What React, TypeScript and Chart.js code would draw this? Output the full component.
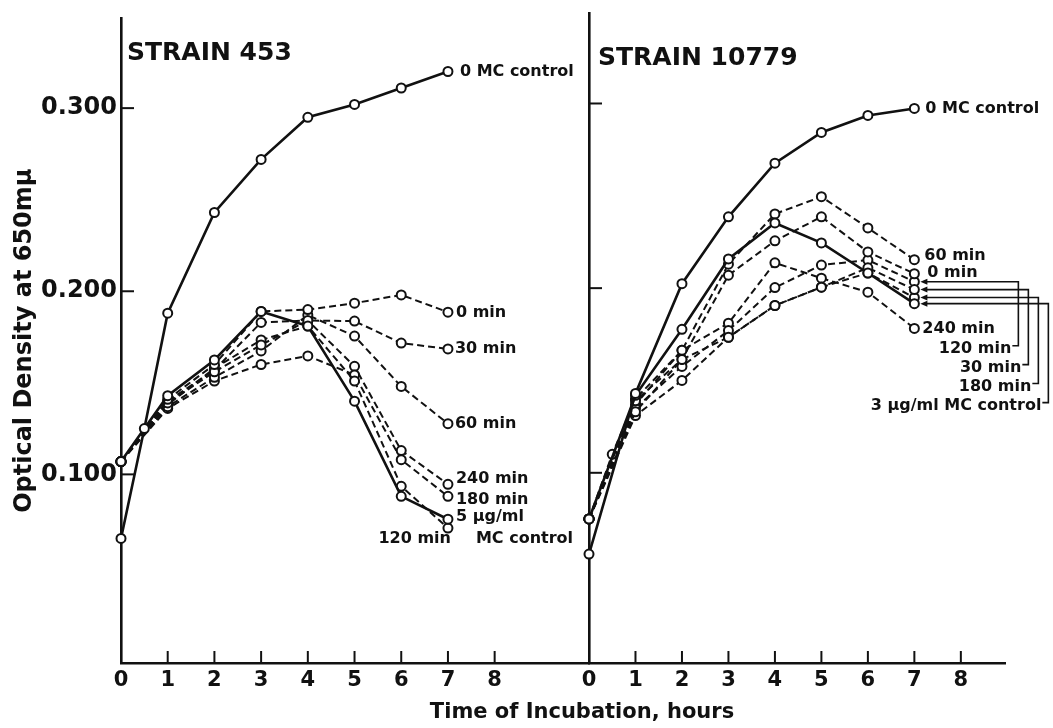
import React, { useEffect, useRef } from "react";
import { Chart, registerables } from "chart.js";
Chart.register(...registerables);

const FONT = "'DejaVu Sans', sans-serif";
const INK = "#111111";

const TICK_HOURS = [0, 1, 2, 3, 4, 5, 6, 7, 8];
const OD_TICKS = [0.1, 0.2, 0.3];

const HOURS = [0, 1, 2, 3, 4, 5, 6, 7];
const HOURS_WITH_HALF = [0, 0.5, 1, 2, 3, 4, 5, 6, 7];

// STRAIN 453
const S453_CONTROL_0MC = [0.065, 0.125, 0.188, 0.243, 0.272, 0.295, 0.302, 0.311, 0.32];
const S453_CONTROL_5UG = [0.107, 0.143, 0.1625, 0.189, 0.181, 0.14, 0.088, 0.0755];
const S453_0MIN = [0.107, 0.141, 0.16, 0.189, 0.19, 0.1935, 0.198, 0.1886];
const S453_30MIN = [0.107, 0.139, 0.156, 0.1707, 0.184, 0.1837, 0.1717, 0.1685];
const S453_60MIN = [0.107, 0.137, 0.153, 0.1674, 0.187, 0.1755, 0.148, 0.1277];
const S453_120MIN = [0.107, 0.138, 0.158, 0.1734, 0.181, 0.151, 0.0935, 0.0707];
const S453_180MIN = [0.107, 0.136, 0.151, 0.16, 0.1647, 0.1543, 0.108, 0.088];
const S453_240MIN = [0.107, 0.14, 0.157, 0.183, 0.184, 0.159, 0.113, 0.0946];

// STRAIN 10779
const S10779_CONTROL_0MC = [0.056, 0.143, 0.2024, 0.2386, 0.2677, 0.2843, 0.2935, 0.2973];
const S10779_CONTROL_3UG = [0.075, 0.142, 0.1777, 0.2158, 0.2353, 0.2245, 0.2082, 0.1916];
const S10779_0MIN = [0.075, 0.139, 0.1614, 0.207, 0.2256, 0.2386, 0.2196, 0.2078];
const S10779_30MIN = [0.075, 0.133, 0.1614, 0.1734, 0.1906, 0.2005, 0.211, 0.1992];
const S10779_60MIN = [0.075, 0.11, 0.14, 0.1663, 0.213, 0.2402, 0.2495, 0.2326, 0.2154];
const S10779_120MIN = [0.075, 0.135, 0.1576, 0.177, 0.2003, 0.2125, 0.2152, 0.2035];
const S10779_180MIN = [0.075, 0.131, 0.15, 0.1734, 0.1906, 0.2005, 0.2082, 0.1949];
const S10779_240MIN = [0.075, 0.137, 0.1663, 0.181, 0.2137, 0.2054, 0.1978, 0.1782];

function ds(label: string, hours: number[], values: number[], dashed: boolean) {
  return {
    label,
    data: hours.map((h, i) => ({ x: h, y: values[i] })),
    borderColor: INK,
    borderWidth: dashed ? 2 : 2.6,
    borderDash: dashed ? [7, 4] : [],
    pointRadius: 4.5,
    pointBackgroundColor: "#ffffff",
    pointBorderColor: INK,
    pointBorderWidth: 2,
    tension: 0,
    fill: false,
    clip: false as any,
  };
}

const LEFT_SETS = [
  ds("0 MC control", HOURS_WITH_HALF, S453_CONTROL_0MC, false),
  ds("5 µg/ml MC control", HOURS, S453_CONTROL_5UG, false),
  ds("0 min", HOURS, S453_0MIN, true),
  ds("30 min", HOURS, S453_30MIN, true),
  ds("60 min", HOURS, S453_60MIN, true),
  ds("120 min", HOURS, S453_120MIN, true),
  ds("180 min", HOURS, S453_180MIN, true),
  ds("240 min", HOURS, S453_240MIN, true),
];

const RIGHT_SETS = [
  ds("0 MC control", HOURS, S10779_CONTROL_0MC, false),
  ds("3 µg/ml MC control", HOURS, S10779_CONTROL_3UG, false),
  ds("0 min", HOURS, S10779_0MIN, true),
  ds("30 min", HOURS, S10779_30MIN, true),
  ds("60 min", HOURS_WITH_HALF, S10779_60MIN, true),
  ds("120 min", HOURS, S10779_120MIN, true),
  ds("180 min", HOURS, S10779_180MIN, true),
  ds("240 min", HOURS, S10779_240MIN, true),
];

type EndLabel = { set: number; text: string; dx: number; dy: number; align?: CanvasTextAlign };
type Bracket = { set: number; text: string; barDx: number; textDy: number };

const LEFT_LABELS: EndLabel[] = [
  { set: 0, text: "0 MC control", dx: 12, dy: 0 },
  { set: 2, text: "0 min", dx: 8, dy: 1 },
  { set: 3, text: "30 min", dx: 7, dy: 0 },
  { set: 4, text: "60 min", dx: 7, dy: 0 },
  { set: 7, text: "240 min", dx: 8, dy: -5 },
  { set: 6, text: "180 min", dx: 8, dy: 3 },
  { set: 1, text: "5 µg/ml", dx: 8, dy: -2 },
  { set: 1, text: "MC control", dx: 28, dy: 20 },
  { set: 5, text: "120 min", dx: 3, dy: 11, align: "right" },
];

const RIGHT_LABELS: EndLabel[] = [
  { set: 0, text: "0 MC control", dx: 11, dy: 0 },
  { set: 4, text: "60 min", dx: 10, dy: -4 },
  { set: 2, text: "0 min", dx: 13, dy: -1 },
  { set: 7, text: "240 min", dx: 8, dy: 0 },
];

const RIGHT_BRACKETS: Bracket[] = [
  { set: 5, text: "120 min", barDx: 104, textDy: 67 },
  { set: 3, text: "30 min", barDx: 114, textDy: 78 },
  { set: 6, text: "180 min", barDx: 124, textDy: 89 },
  { set: 1, text: "3 µg/ml MC control", barDx: 134, textDy: 102 },
];

function lastPoint(chart: any, i: number) {
  const pts = chart.getDatasetMeta(i).data;
  const p = pts[pts.length - 1];
  return { x: p.x, y: p.y };
}

function makePlugin(title: string, titleDx: number, titleY: number, labels: EndLabel[], brackets: Bracket[], drawXTitle: boolean) {
  return {
    id: "annot",
    afterDraw(chart: any) {
      const { ctx, chartArea, scales } = chart;
      ctx.save();
      ctx.strokeStyle = INK;
      ctx.fillStyle = INK;
      // inner ticks
      ctx.lineWidth = 2;
      scales.x.ticks.forEach((t: any) => {
        if (t.value === 0) return;
        const px = scales.x.getPixelForValue(t.value);
        ctx.beginPath();
        ctx.moveTo(px, chartArea.bottom);
        ctx.lineTo(px, chartArea.bottom - 12);
        ctx.stroke();
      });
      scales.y.ticks.forEach((t: any) => {
        const py = scales.y.getPixelForValue(t.value);
        ctx.beginPath();
        ctx.moveTo(chartArea.left, py);
        ctx.lineTo(chartArea.left + 13, py);
        ctx.stroke();
      });
      // panel title
      ctx.font = `bold 25px ${FONT}`;
      ctx.textAlign = "left";
      ctx.textBaseline = "middle";
      ctx.fillText(title, chartArea.left + titleDx, titleY);
      // end labels
      ctx.font = `bold 16px ${FONT}`;
      labels.forEach((l) => {
        const p = lastPoint(chart, l.set);
        ctx.textAlign = l.align || "left";
        ctx.fillText(l.text, p.x + l.dx, p.y + l.dy);
      });
      // brackets
      ctx.lineWidth = 1.6;
      brackets.forEach((b) => {
        const p = lastPoint(chart, b.set);
        const barX = p.x + b.barDx;
        const lowY = p.y + b.textDy - 3;
        ctx.beginPath();
        ctx.moveTo(p.x + 12, p.y);
        ctx.lineTo(barX, p.y);
        ctx.lineTo(barX, lowY);
        ctx.lineTo(barX - 6, lowY);
        ctx.stroke();
        ctx.beginPath();
        ctx.moveTo(p.x + 6, p.y);
        ctx.lineTo(p.x + 13, p.y - 3);
        ctx.lineTo(p.x + 13, p.y + 3);
        ctx.closePath();
        ctx.fill();
        ctx.textAlign = "right";
        ctx.fillText(b.text, barX - 7, p.y + b.textDy);
      });
      if (drawXTitle) {
        ctx.font = `bold 21px ${FONT}`;
        ctx.textAlign = "center";
        ctx.fillText("Time of Incubation, hours", 582, 713);
      }
      ctx.restore();
    },
  };
}

function makeConfig(sets: any[], xMax: number, left: boolean, plugin: any): any {
  const border = { display: true, color: INK, width: 2.6 };
  const grid = { display: true, drawOnChartArea: false, drawTicks: false };
  return {
    type: "line",
    data: { datasets: sets },
    plugins: [plugin],
    options: {
      responsive: false,
      animation: false,
      devicePixelRatio: 1,
      events: [],
      layout: { padding: left ? { left: 0, top: 13, right: 1053 - 589, bottom: 0 } : { left: 589, top: 13, right: 48, bottom: 0 } },
      plugins: { legend: { display: false }, tooltip: { enabled: false } },
      scales: {
        x: {
          type: "linear",
          min: 0,
          max: xMax,
          border,
          grid,
          afterBuildTicks: (s: any) => {
            s.ticks = TICK_HOURS.map((v) => ({ value: v }));
          },
          afterFit: (s: any) => {
            s.height = 65;
          },
          ticks: {
            color: INK,
            font: { family: FONT, size: 21, weight: "bold" },
            padding: 5,
            maxRotation: 0,
            autoSkip: false,
            callback: (v: any) => String(v),
          },
        },
        y: {
          type: "linear",
          min: -0.003,
          max: 0.349,
          border,
          grid,
          afterBuildTicks: (s: any) => {
            s.ticks = OD_TICKS.map((v) => ({ value: v }));
          },
          afterFit: (s: any) => {
            s.width = left ? 121 : 0;
          },
          ticks: {
            display: left,
            color: INK,
            font: { family: FONT, size: 24, weight: "bold" },
            padding: 4,
            callback: (v: any) => Number(v).toFixed(3),
          },
          title: {
            display: left,
            text: "Optical Density at 650mµ",
            color: INK,
            font: { family: FONT, size: 24, weight: "bold" },
            padding: { top: 10, bottom: 0 },
          },
        },
      },
    },
  };
}

export default function App() {
  const leftRef = useRef<HTMLCanvasElement>(null);
  const rightRef = useRef<HTMLCanvasElement>(null);
  useEffect(() => {
    const c1 = new Chart(
      leftRef.current as HTMLCanvasElement,
      makeConfig(LEFT_SETS, 10.02, true, makePlugin("STRAIN 453", 6, 53, LEFT_LABELS, [], true))
    );
    const c2 = new Chart(
      rightRef.current as HTMLCanvasElement,
      makeConfig(RIGHT_SETS, 8.95, false, makePlugin("STRAIN 10779", 9, 58, RIGHT_LABELS, RIGHT_BRACKETS, false))
    );
    return () => {
      c1.destroy();
      c2.destroy();
    };
  }, []);
  const cs: React.CSSProperties = { position: "absolute", left: 0, top: 0 };
  return (
    <div style={{ position: "absolute", left: 0, top: 0, width: 1053, height: 728, background: "#ffffff" }}>
      <canvas ref={leftRef} width={1053} height={728} style={cs} />
      <canvas ref={rightRef} width={1053} height={728} style={cs} />
    </div>
  );
}
